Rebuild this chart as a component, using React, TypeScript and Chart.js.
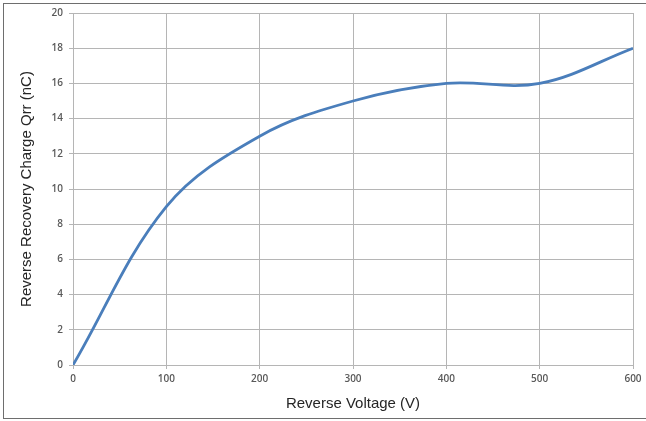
import React, { useEffect, useRef } from "react";
import { Chart, registerables } from "chart.js";

Chart.register(...registerables);

const voltages: number[] = [0, 100, 200, 300, 400, 500, 600];
const charges: number[] = [0, 9, 13, 15, 16, 16, 18];
const xTitle = "Reverse Voltage (V)";
const yTitle = "Reverse Recovery Charge Qrr (nC)";

export default function App() {
  const ref = useRef<HTMLCanvasElement | null>(null);

  useEffect(() => {
    document.body.style.margin = "0";
    document.body.style.background = "#ffffff";
    const ctx = ref.current!.getContext("2d")!;
    const tickFont = { family: "'Open Sans', 'Liberation Sans', sans-serif", size: 10, weight: "600" as any };
    const titleFont = { family: "'Liberation Sans', Arial, sans-serif", size: 15 };
    const gridColor = "#b5b5b5";
    const chart = new Chart(ctx, {
      type: "line",
      data: {
        datasets: [
          {
            data: voltages.map((v, i) => ({ x: v, y: charges[i] })),
            borderColor: "#4a7ebb",
            borderWidth: 2.8,
            pointRadius: 0,
            tension: 0.36,
            fill: false,
          },
        ],
      },
      options: {
        animation: false,
        responsive: false,
        devicePixelRatio: 1,
        layout: { padding: { top: 13, right: 13, left: 0, bottom: 0 } },
        plugins: { legend: { display: false }, tooltip: { enabled: false } },
        scales: {
          x: {
            type: "linear",
            min: 0,
            max: 600,
            ticks: { stepSize: 100, color: "#595959", font: tickFont, padding: 4, maxRotation: 0 },
            grid: { color: gridColor, tickLength: 4, lineWidth: 1 },
            border: { color: gridColor },
            title: { display: true, text: xTitle, color: "#262626", font: titleFont, padding: { top: 0, bottom: 8 } },
            afterFit: (s: any) => {
              s.height = 56;
            },
          },
          y: {
            type: "linear",
            min: 0,
            max: 20,
            ticks: { stepSize: 2, color: "#595959", font: tickFont, padding: 6 },
            grid: { color: gridColor, tickLength: 4, lineWidth: 1 },
            border: { color: gridColor },
            title: { display: true, text: yTitle, color: "#262626", font: titleFont, padding: { top: 18, bottom: 0 } },
            afterFit: (s: any) => {
              s.width = 73;
            },
          },
        },
      },
    });
    return () => chart.destroy();
  }, []);

  return (
    <div style={{ position: "absolute", left: 0, top: 0, width: 646, height: 421, overflow: "hidden", background: "#fff" }}>
      <canvas ref={ref} width={646} height={421} style={{ position: "absolute", left: 0, top: 0, width: 646, height: 421 }} />
      <div
        style={{
          position: "absolute",
          left: 3,
          top: 3,
          width: 700,
          height: 416,
          boxSizing: "border-box",
          border: "1.5px solid #6e6e6e",
          pointerEvents: "none",
        }}
      />
    </div>
  );
}
